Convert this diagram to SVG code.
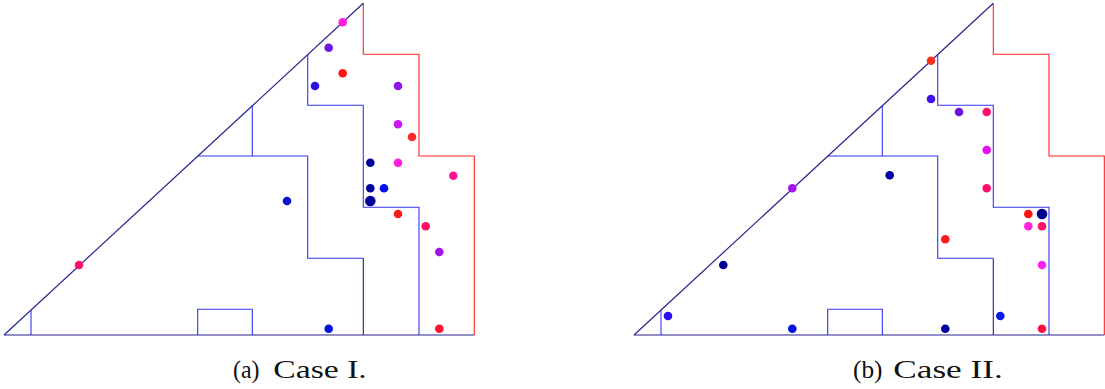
<svg xmlns="http://www.w3.org/2000/svg" xmlns:xlink="http://www.w3.org/1999/xlink" width="1105" height="389" viewBox="0 0 1105 389">
<style>
.outer{fill:none;stroke:#24248f;stroke-width:1.2}
.red{fill:none;stroke:#ff2020;stroke-width:1.1}
.inner{fill:none;stroke:#3535f5;stroke-width:1.1}
.dark{fill:none;stroke:#202080;stroke-width:1.1}
.cap{font-family:"Liberation Serif","DejaVu Serif",serif;font-size:25.5px;fill:#111}
</style>
<defs>
<g id="frame">
<polyline class="inner" points="31,310 31,335"/>
<polyline class="inner" points="197.7,335 197.7,309.3 252.3,309.3 252.3,335"/>
<polyline class="inner" points="197.7,156 307.7,156 307.7,258.3 363.3,258.3"/>
<polyline class="dark" points="363.3,258.3 363.3,335"/>
<polyline class="inner" points="252.3,105.8 252.3,156"/>
<polyline class="inner" points="307.7,54.8 307.7,105.3 363.3,105.3 363.3,207.3 419,207.3 419,335"/>
<polyline class="red" points="363.3,3.3 363.3,54.3 419,54.3 419,156 474.3,156 474.3,335"/>
<line class="outer" x1="4" y1="335" x2="363.3" y2="3.3"/>
<line class="outer" x1="4" y1="335" x2="474.3" y2="335"/>
</g>
</defs>
<g id="panel-a">
<use xlink:href="#frame" href="#frame"/>
<g id="dots-a">
<circle cx="342.7" cy="22.3" r="4.3" fill="#ff1ee0"/>
<circle cx="328.7" cy="47.7" r="4.3" fill="#7214ee"/>
<circle cx="342.7" cy="73.3" r="4.3" fill="#ff1414"/>
<circle cx="315" cy="86" r="4.3" fill="#2a10e6"/>
<circle cx="398" cy="86" r="4.3" fill="#8c14f0"/>
<circle cx="398" cy="124.3" r="4.3" fill="#d014f0"/>
<circle cx="412" cy="137" r="4.3" fill="#ff2a2a"/>
<circle cx="370.3" cy="162.7" r="4.3" fill="#0000a0"/>
<circle cx="398" cy="162.7" r="4.3" fill="#ff1ee0"/>
<circle cx="453.3" cy="175.7" r="4.3" fill="#ff1496"/>
<circle cx="370.3" cy="188.3" r="4.3" fill="#00009a"/>
<circle cx="384" cy="188.3" r="4.3" fill="#0010e6"/>
<circle cx="370.3" cy="201" r="5.3" fill="#00009a"/>
<circle cx="287" cy="201" r="4.3" fill="#1010d0"/>
<circle cx="398" cy="214" r="4.3" fill="#ff1a1a"/>
<circle cx="425.7" cy="226.3" r="4.3" fill="#ff1060"/>
<circle cx="439.3" cy="252" r="4.3" fill="#a014f0"/>
<circle cx="328.7" cy="328.7" r="4.3" fill="#0010e0"/>
<circle cx="439.3" cy="328.7" r="4.3" fill="#ff1030"/>
<circle cx="79" cy="265" r="4.3" fill="#ff1070"/>
</g>
<text class="cap" x="233" y="378" textLength="26.5" lengthAdjust="spacingAndGlyphs">(a)</text>
<text class="cap" x="273.3" y="378" textLength="93.5" lengthAdjust="spacingAndGlyphs">Case I.</text>
</g>
<g id="panel-b">
<use xlink:href="#frame" href="#frame" x="630"/>
<g id="dots-b">
<circle cx="792.3" cy="188.3" r="4.3" fill="#a014f0"/>
<circle cx="931" cy="60.7" r="4.3" fill="#ff3020"/>
<circle cx="931" cy="99" r="4.3" fill="#4010f0"/>
<circle cx="959" cy="112" r="4.3" fill="#7010e0"/>
<circle cx="986.7" cy="112" r="4.3" fill="#ff1070"/>
<circle cx="986.7" cy="150" r="4.3" fill="#e010f0"/>
<circle cx="986.7" cy="188.3" r="4.3" fill="#ff1070"/>
<circle cx="889.7" cy="175.3" r="4.3" fill="#0000a0"/>
<circle cx="1028.3" cy="214" r="4.3" fill="#ff1010"/>
<circle cx="1042" cy="214" r="5.3" fill="#000090"/>
<circle cx="1028.3" cy="226.3" r="4.3" fill="#ff20e0"/>
<circle cx="1042" cy="226.3" r="4.3" fill="#ff1060"/>
<circle cx="945.3" cy="239.3" r="4.3" fill="#ff1a1a"/>
<circle cx="1042" cy="265" r="4.3" fill="#ff20ee"/>
<circle cx="1000.3" cy="316" r="4.3" fill="#0a1ae8"/>
<circle cx="945.3" cy="328.7" r="4.3" fill="#0000a0"/>
<circle cx="1042" cy="328.7" r="4.3" fill="#ff1040"/>
<circle cx="723.3" cy="265" r="4.3" fill="#000090"/>
<circle cx="668" cy="316" r="4.3" fill="#2a10f0"/>
<circle cx="792.3" cy="328.7" r="4.3" fill="#0010e0"/>
</g>
<text class="cap" x="853" y="378" textLength="29.5" lengthAdjust="spacingAndGlyphs">(b)</text>
<text class="cap" x="893.3" y="378" textLength="109.5" lengthAdjust="spacingAndGlyphs">Case II.</text>
</g>
</svg>
